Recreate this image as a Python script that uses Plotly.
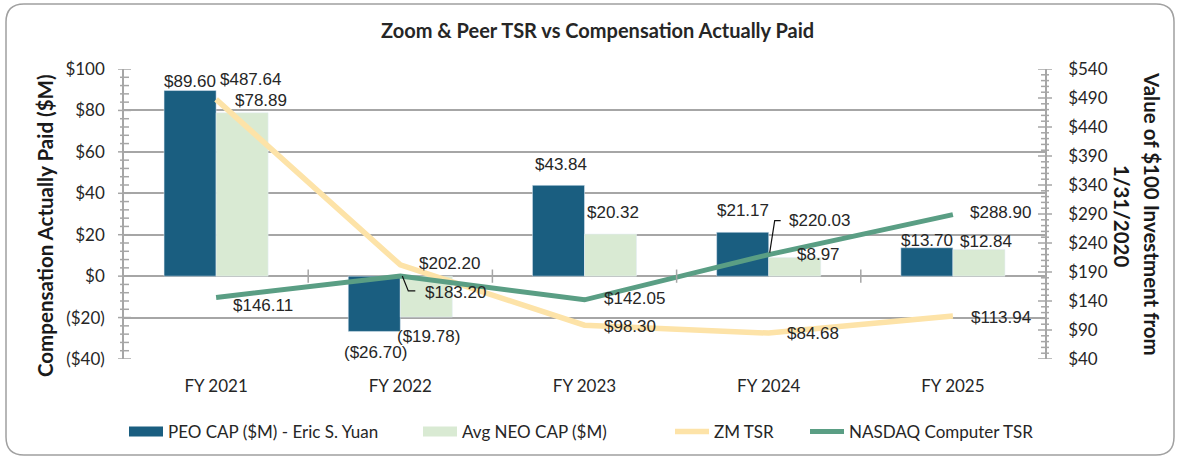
import plotly.graph_objects as go

# ---------------- data ----------------
categories = ["FY 2021", "FY 2022", "FY 2023", "FY 2024", "FY 2025"]
peo_cap = [89.60, -26.70, 43.84, 21.17, 13.70]
neo_cap = [78.89, -19.78, 20.32, 8.97, 12.84]
zm_tsr = [487.64, 202.20, 98.30, 84.68, 113.94]
nasdaq_tsr = [146.11, 183.20, 142.05, 220.03, 288.90]

left_tickvals = [100, 80, 60, 40, 20, 0, -20, -40]
left_ticktext = ["$100", "$80", "$60", "$40", "$20", "$0", "($20)", "($40)"]
right_tickvals = [540, 490, 440, 390, 340, 290, 240, 190, 140, 90, 40]
right_ticktext = ["$" + str(v) for v in right_tickvals]

series_names = ["PEO CAP ($M) - Eric S. Yuan", "Avg NEO CAP ($M)", "ZM TSR", "NASDAQ Computer TSR"]

# ---------------- style ----------------
C_PEO = "#1a5e80"
C_NEO = "#d9ead3"
C_ZM = "#fde3a8"
C_NAS = "#5a9e84"
GRID = "#a6a6a6"
TXT = "#262626"
AX_FONT = "Lato"
LBL_FONT = "Liberation Sans"

W, H = 1180, 457
ML, MR, MT, MB = 124, 135, 69, 98
PW, PH = W - ML - MR, H - MT - MB

def px_x(px):
    return (px - ML) / PW

def px_y(py):
    return (H - MB - py) / PH

def fmt(v):
    return ("(${:.2f})".format(-v)) if v < 0 else "${:.2f}".format(v)

# label offsets (pixels) relative to the data point: (dx, dy-up)
peo_off = [(-26, 9), (-25, -21), (-24, 21), (-26, 22), (-26, 7)]
neo_off = [(45, 12), (28, -19), (28, 22), (50, 3), (33, 8)]
zm_off = [(34, 20), (49, 1), (45, -1), (44, 0), (48, -1)]
nas_off = [(47, -8), (55, -17), (50, 1), (51, 34), (48, 2)]

fig = go.Figure()

fig.add_trace(go.Bar(x=categories, y=peo_cap, name=series_names[0], marker_color=C_PEO,
                     showlegend=False, yaxis="y"))
fig.add_trace(go.Bar(x=categories, y=neo_cap, name=series_names[1], marker_color=C_NEO,
                     showlegend=False, yaxis="y"))

# legend swatches for the bars (thick line looks like a rectangle)
fig.add_trace(go.Scatter(x=[None], y=[None], mode="lines", name=series_names[0],
                         line=dict(color=C_PEO, width=12), legend="legend"))
fig.add_trace(go.Scatter(x=[None], y=[None], mode="lines", name=series_names[1],
                         line=dict(color=C_NEO, width=12), legend="legend2"))

fig.add_trace(go.Scatter(x=categories, y=zm_tsr, name=series_names[2], mode="lines",
                         line=dict(color=C_ZM, width=5.5), yaxis="y2", legend="legend3"))
fig.add_trace(go.Scatter(x=categories, y=nasdaq_tsr, name=series_names[3], mode="lines",
                         line=dict(color=C_NAS, width=5), yaxis="y2", legend="legend4"))

annotations = []
def add_labels(vals, offs, yref):
    for i, (v, (dx, dy)) in enumerate(zip(vals, offs)):
        annotations.append(dict(x=categories[i], y=v, xref="x", yref=yref, text=fmt(v),
                                showarrow=False, xshift=dx, yshift=dy,
                                xanchor="center", yanchor="middle",
                                font=dict(family=LBL_FONT, size=17, color=TXT)))

add_labels(peo_cap, peo_off, "y")
add_labels(neo_cap, neo_off, "y")
add_labels(zm_tsr, zm_off, "y2")
add_labels(nasdaq_tsr, nas_off, "y2")

# titles
annotations.append(dict(text="<b>Zoom & Peer TSR vs Compensation Actually Paid</b>", x=px_x(597), y=px_y(30),
                        xref="paper", yref="paper", showarrow=False, xanchor="center", yanchor="middle",
                        font=dict(family=AX_FONT, size=20, color=TXT)))
annotations.append(dict(text="<b>Compensation Actually Paid ($M)</b>", x=px_x(45), y=px_y(226),
                        xref="paper", yref="paper", showarrow=False, textangle=-90,
                        xanchor="center", yanchor="middle",
                        font=dict(family=AX_FONT, size=20.5, color="#1a1a1a")))
annotations.append(dict(text="<b>Value of $100 Investment from</b>", x=px_x(1152), y=px_y(214),
                        xref="paper", yref="paper", showarrow=False, textangle=90,
                        xanchor="center", yanchor="middle",
                        font=dict(family=AX_FONT, size=20.5, color="#1a1a1a")))
annotations.append(dict(text="<b>1/31/2020</b>", x=px_x(1122), y=px_y(216),
                        xref="paper", yref="paper", showarrow=False, textangle=90,
                        xanchor="center", yanchor="middle",
                        font=dict(family=AX_FONT, size=20.5, color="#1a1a1a")))

shapes = []
# left axis cross ticks
for v in range(-40, 101, 4):
    major = v % 20 == 0
    shapes.append(dict(type="line", xref="paper", yref="y", x0=px_x(ML - (6 if major else 4)),
                       x1=px_x(ML + (7 if major else 5)), y0=v, y1=v,
                       line=dict(color=GRID, width=1.5)))
# right axis cross ticks
for v in range(40, 541, 10):
    major = (v - 40) % 50 == 0
    shapes.append(dict(type="line", xref="paper", yref="y2", x0=px_x(ML + PW - (7 if major else 4)),
                       x1=px_x(ML + PW + (7 if major else 4)), y0=v, y1=v,
                       line=dict(color=GRID, width=1.5)))
# category boundary ticks on the zero line
for b in [0.5, 1.5, 2.5, 3.5]:
    shapes.append(dict(type="line", xref="x", yref="y", x0=b, x1=b, y0=-3.2, y1=3.2,
                       line=dict(color=GRID, width=1.5)))
# leader lines
shapes.append(dict(type="path", xref="x", yref="y2", xsizemode="pixel", ysizemode="pixel",
                   xanchor=1, yanchor=nasdaq_tsr[1], path="M2,0 L8,-15 L15,-15",
                   line=dict(color="#111111", width=1.2)))
shapes.append(dict(type="path", xref="x", yref="y2", xsizemode="pixel", ysizemode="pixel",
                   xanchor=3, yanchor=nasdaq_tsr[3], path="M1,2 L6,34 L12,34",
                   line=dict(color="#111111", width=1.2)))
# rounded border
r = 18
x0b, x1b, y0b, y1b = 6, 1174, 4, 455
path = (f"M{px_x(x0b + r)},{px_y(y0b)} L{px_x(x1b - r)},{px_y(y0b)} "
        f"Q{px_x(x1b)},{px_y(y0b)} {px_x(x1b)},{px_y(y0b + r)} "
        f"L{px_x(x1b)},{px_y(y1b - r)} Q{px_x(x1b)},{px_y(y1b)} {px_x(x1b - r)},{px_y(y1b)} "
        f"L{px_x(x0b + r)},{px_y(y1b)} Q{px_x(x0b)},{px_y(y1b)} {px_x(x0b)},{px_y(y1b - r)} "
        f"L{px_x(x0b)},{px_y(y0b + r)} Q{px_x(x0b)},{px_y(y0b)} {px_x(x0b + r)},{px_y(y0b)} Z")
shapes.append(dict(type="path", xref="paper", yref="paper", path=path,
                   line=dict(color="#a0a0a0", width=1.5), layer="below"))

leg_font = dict(family=AX_FONT, size=17, color=TXT)
def leg(xpx):
    return dict(x=px_x(xpx), y=px_y(432), xanchor="left", yanchor="middle", orientation="h",
                font=leg_font, bgcolor="rgba(0,0,0,0)", itemwidth=34, borderwidth=0)

fig.update_layout(
    width=W, height=H,
    margin=dict(l=ML, r=MR, t=MT, b=MB, autoexpand=False),
    paper_bgcolor="white", plot_bgcolor="white",
    barmode="group", bargap=0.435, bargroupgap=0,
    xaxis=dict(type="category", range=[-0.5, 4.5], showgrid=False, showline=False, zeroline=False,
               ticks="", tickfont=dict(family=AX_FONT, size=17, color=TXT), ticklabelstandoff=15),
    yaxis=dict(range=[-40, 100], tickvals=left_tickvals, ticktext=left_ticktext, showgrid=True,
               gridcolor=GRID, gridwidth=1.5, zeroline=False, showline=True, linecolor=GRID, linewidth=1.5,
               ticks="", tickfont=dict(family=AX_FONT, size=17, color=TXT), ticklabelstandoff=14),
    yaxis2=dict(range=[40, 540], tickvals=right_tickvals, ticktext=right_ticktext, overlaying="y",
                side="right", showgrid=False, zeroline=False, showline=True, linecolor=GRID, linewidth=1.5,
                ticks="", tickfont=dict(family=AX_FONT, size=17, color=TXT), ticklabelstandoff=18),
    legend=leg(124), legend2=leg(418), legend3=leg(670), legend4=leg(805),
    annotations=annotations,
    shapes=shapes,
)

fig.write_html("out.html", config={"displayModeBar": False},
               post_script="document.body.style.margin='0';document.body.style.overflow='hidden';")
